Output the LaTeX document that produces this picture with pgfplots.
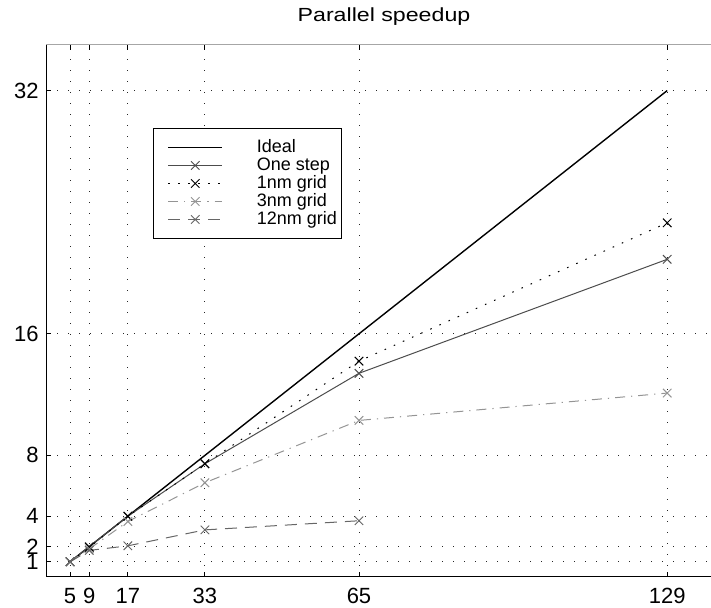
\documentclass[border=0pt]{standalone}
\usepackage{fontspec}
\setmainfont{Liberation Sans}
\newfontfamily\titlefont[FakeStretch=1.22]{Liberation Sans}
\usepackage{pgfplots}
\pgfplotsset{compat=1.18}
\usetikzlibrary{calc}
\definecolor{onestep}{gray}{0.30}
\definecolor{nmthree}{gray}{0.58}
\definecolor{nmtwelve}{gray}{0.40}

\begin{document}
\begin{tikzpicture}
\begin{axis}[
    name=ax,
    scale only axis,
    width=332.5pt, height=266pt,
    xmin=0, xmax=138.1,
    ymin=0, ymax=35,
    axis x line*=box,
    axis y line*=left,
    xtick={5,9,17,33,65,129},
    ytick={1,2,4,8,16,32},
    tick align=inside,
    major tick length=2.5pt,
    tick style={black, line width=0.5pt},
    axis line style={black, line width=0.5pt},
    /pgf/number format/assume math mode=true,
    tick label style={font=\fontsize{11}{12}\selectfont},
    xticklabel style={inner sep=0pt, anchor=north, yshift=-5.5pt},
    yticklabel style={inner sep=0pt, anchor=east, xshift=-3.5pt},
    grid=major,
    grid style={black!85, line width=0.5pt, dash pattern=on 0.6pt off 4.9pt},
    every axis title shift=0pt,
    title={\titlefont\fontsize{9.5}{11}\selectfont Parallel speedup},
    title style={at={(0.5,1)}, anchor=base, yshift=11.5pt, xshift=2.75pt},
    legend image code/.code={
      \path (0pt,0pt);
      \draw[mark repeat=2, mark phase=2] plot coordinates {(5pt,0pt) (18.5pt,0pt) (32pt,0pt)};
    },
    legend style={
      at={(0.161,0.844)}, anchor=north west,
      draw=black, line width=0.5pt,
      font=\fontsize{9}{10}\selectfont,
      inner xsep=2pt, inner ysep=5pt,
      nodes={inner sep=0pt, text height=6.8pt, text depth=2.2pt},
      /tikz/every odd column/.append style={column sep=17pt},
      legend cell align=left,
    },
    every axis plot/.append style={line width=0.5pt},
    mark options={solid, line width=0.5pt},
]
\addplot[black, line width=0.7pt] coordinates {
  (5,1) (9,2) (17,4) (33,8) (65,16) (129,32)
};
\addlegendentry{Ideal}
\addplot[onestep, mark=x, mark size=3pt] coordinates {
  (5,1) (9,2) (17,4) (33,7.45) (65,13.4) (129,20.9)
};
\addlegendentry{One step}
\addplot[black, mark=x, mark size=3pt, dash pattern=on 0.8pt off 4.2pt] coordinates {
  (5,1) (9,1.95) (17,4) (33,7.45) (65,14.2) (129,23.3)
};
\addlegendentry{1nm grid}
\addplot[nmthree, mark=x, mark size=3pt, dash pattern=on 5pt off 3pt on 0.6pt off 3pt] coordinates {
  (5,1) (9,1.85) (17,3.65) (33,6.2) (65,10.3) (129,12.1)
};
\addlegendentry{3nm grid}
\addplot[nmtwelve, mark=x, mark size=3pt, dash pattern=on 6pt off 4pt] coordinates {
  (5,1) (9,1.75) (17,2.05) (33,3.1) (65,3.7)
};
\addlegendentry{12nm grid}
\end{axis}
\draw[gray!70, line width=0.5pt] (ax.north west) -- (ax.north east);
\pgfresetboundingbox
\useasboundingbox ($(ax.south west)+(-23pt,-15.5pt)$) rectangle ($(ax.north east)+(0pt,22.5pt)$);
\end{tikzpicture}
\end{document}
